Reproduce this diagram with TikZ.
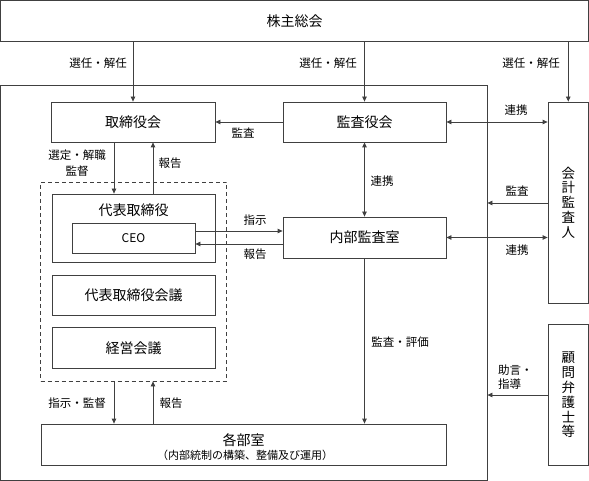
\documentclass[tikz,border=0pt]{standalone}
\usepackage{fontspec}
\setmainfont{Noto Sans CJK JP}
\usetikzlibrary{arrows.meta,calc}
\begin{document}
\begin{tikzpicture}[x=1pt,y=-1pt,
 line/.style={draw=black!75, line width=0.8pt},
 box/.style={line, rectangle, inner sep=0pt, anchor=center},
 arr/.style={line, -{Triangle[length=5pt,width=4.5pt]}},
 darr/.style={line, {Triangle[length=5pt,width=4.5pt]}-{Triangle[length=5pt,width=4.5pt]}},
 big/.style={font=\fontsize{14}{16}\selectfont},
 lbl/.style={font=\fontsize{11.5}{13}\selectfont, inner sep=0pt},
 small/.style={font=\fontsize{11}{13}\selectfont, inner sep=0pt},
 vtext/.style={font=\fontsize{13.5}{14.8}\selectfont, align=center},
 grpbox/.style={box, dash pattern=on 4pt off 3pt}
]
\useasboundingbox (0,0) rectangle (589,481);

% outer frame
\node[box, minimum width=486.5pt, minimum height=395pt] (outer) at (243.75,282.5) {};

% boxes
\node[box, big, minimum width=588pt, minimum height=40.5pt] (sh) at (294.5,20.75) {株主総会};
\node[box, big, minimum width=164pt, minimum height=40pt] (tori) at (133,122) {取締役会};
\node[box, big, minimum width=163pt, minimum height=40pt] (kansa) at (364.5,122) {監査役会};
\node[box, vtext, minimum width=40.5pt, minimum height=201pt] (kaikei) at (568.25,202.5) {会\\計\\監\\査\\人};
\node[grpbox, minimum width=186pt, minimum height=199pt] (grp) at (133.5,281.5) {};
\node[box, minimum width=163pt, minimum height=68pt] (daihyo) at (133.5,228) {};
\node[big, inner sep=0pt] (daihyoT) at (133.5,210) {代表取締役};
\node[box, font=\fontsize{12}{14}\selectfont, minimum width=123pt, minimum height=30pt] (ceo) at (133.5,238) {CEO};
\node[box, big, minimum width=163pt, minimum height=40pt] (daikaigi) at (133.5,295) {代表取締役会議};
\node[box, big, minimum width=163pt, minimum height=41pt] (keiei) at (133.5,348) {経営会議};
\node[box, big, minimum width=163pt, minimum height=41pt] (naibu) at (364.5,237.5) {内部監査室};
\node[box, minimum width=405pt, minimum height=41pt] (kakubu) at (243.5,444.5) {};
\node[big, inner sep=0pt] (kakubuT) at (243.5,440) {各部室};
\node[small] (kakubuS) at (245,455) {（内部統制の構築、整備及び運用）};
\node[box, vtext, minimum width=40.5pt, minimum height=141pt] (komon) at (568.25,395) {顧\\問\\弁\\護\\士\\等};

% helper coordinates
\coordinate (xa) at (114,0);
\coordinate (xb) at (153,0);
\coordinate (ya) at (0,231);
\coordinate (yb) at (0,244);
\coordinate (yc) at (0,203);
\coordinate (yd) at (0,395);

% connectors
\draw[arr] (sh.south -| tori.north) -- (tori.north);
\draw[arr] (sh.south -| kansa.north) -- (kansa.north);
\draw[arr] (sh.south -| kaikei.north) -- (kaikei.north);
\draw[arr] (kansa.west) -- (tori.east);
\draw[darr] (kansa.east) -- (kaikei.west |- kansa.east);
\draw[darr] (kansa.south) -- (naibu.north);
\draw[arr] (tori.south -| xa) -- (daihyo.north -| xa);
\draw[arr] (daihyo.north -| xb) -- (tori.south -| xb);
\draw[arr] (ceo.east |- ya) -- (naibu.west |- ya);
\draw[arr] (naibu.west |- yb) -- (ceo.east |- yb);
\draw[darr] (naibu.east) -- (kaikei.west |- naibu.east);
\draw[arr] (kaikei.west |- yc) -- (outer.east |- yc);
\draw[arr] (komon.west |- yd) -- (outer.east |- yd);
\draw[arr] (grp.south -| xa) -- (kakubu.north -| xa);
\draw[arr] (kakubu.north -| xb) -- (grp.south -| xb);
\draw[arr] (naibu.south) -- (kakubu.north -| naibu.south);

% labels
\node[lbl] (l1) at (98,63) {選任・解任};
\node[lbl] (l2) at (328,63) {選任・解任};
\node[lbl] (l3) at (531,63) {選任・解任};
\node[lbl] (l4) at (243,133) {監査};
\node[lbl] (l5) at (516,110) {連携};
\node[lbl] (l6) at (382,181) {連携};
\node[lbl] (l7) at (77,155) {選定・解職};
\node[lbl] (l8) at (77,171) {監督};
\node[lbl] (l9) at (170,163) {報告};
\node[lbl] (l10) at (255,220) {指示};
\node[lbl] (l11) at (255,254) {報告};
\node[lbl] (l12) at (517,191) {監査};
\node[lbl] (l13) at (517,250) {連携};
\node[lbl, anchor=west] (l14) at (498,370) {助言・};
\node[lbl, anchor=west] (l15) at (498,384) {指導};
\node[lbl] (l16) at (77,403) {指示・監督};
\node[lbl] (l17) at (171,403) {報告};
\node[lbl] (l18) at (400,342) {監査・評価};
\end{tikzpicture}
\end{document}
